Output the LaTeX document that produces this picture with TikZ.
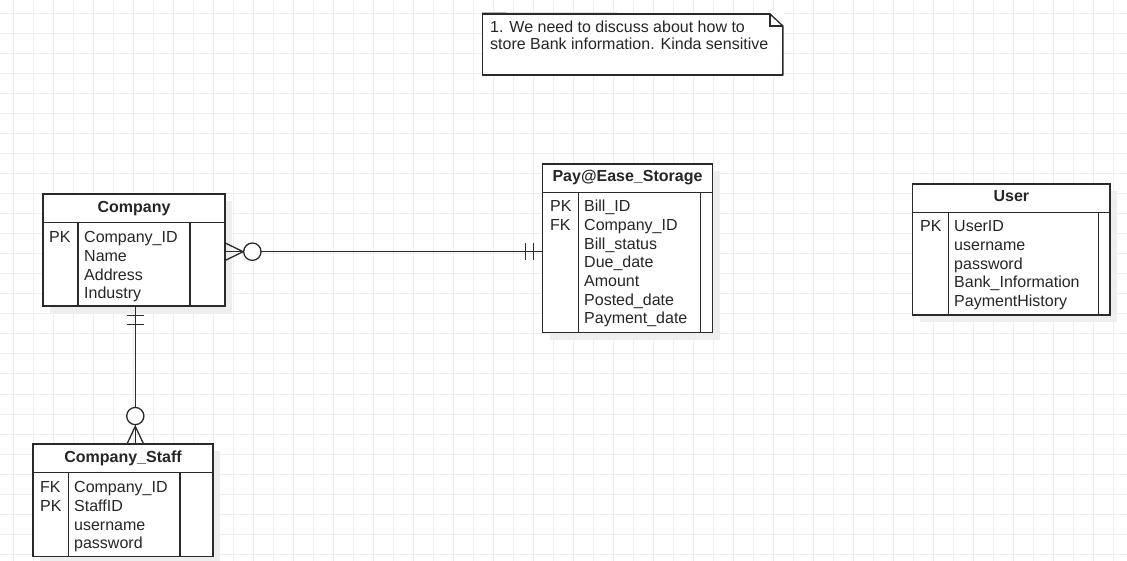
\documentclass[tikz,border=0pt]{standalone}
\usepackage{fontspec}
\setmainfont{Liberation Sans}
\definecolor{gridc}{HTML}{EEEEEE}
\definecolor{linec}{HTML}{2A2A2A}
\definecolor{textc}{HTML}{262626}
\definecolor{shadowc}{HTML}{EEEEEE}
\tikzset{
  gridline/.style={draw=gridc, line width=1bp},
  shade box/.style={fill=shadowc, draw=none},
  entity/.style={draw=linec, line width=1.3bp, fill=white, inner sep=0pt},
  inner line/.style={draw=linec, line width=1.3bp},
  conn/.style={draw=linec, line width=1.3bp},
  hdr/.style={anchor=base, inner sep=0pt, text=textc, font=\fontsize{16bp}{18.67bp}\selectfont\bfseries},
  rows/.style={anchor=north west, inner sep=0pt, align=left, text=textc, font=\fontsize{16bp}{18.67bp}\selectfont},
  notetext/.style={anchor=north west, inner sep=0pt, align=left, text=textc, font=\fontsize{16bp}{16.7bp}\selectfont},
}
\begin{document}
\begin{tikzpicture}[x=1bp, y=-1bp]
\useasboundingbox (0,0) rectangle (1127,561);
\fill[white] (0,0) rectangle (1127,561);
% grid
\foreach \i in {0,...,55} \draw[gridline] (13.3+20*\i,0) -- (13.3+20*\i,561);
\foreach \j in {0,...,27} \draw[gridline] (0,14+20*\j) -- (1127,14+20*\j);

% ---------- Note ----------
\node[draw=linec, line width=1.3bp, fill=white, inner sep=0pt, minimum width=299.6bp, minimum height=61bp] (note) at (632.5,44.5) {};
\fill[white] (770,13) -- (783.5,13) -- (783.5,26.5) -- cycle;
\draw[inner line] (note.north west) -- (770,14) -- (note.north east |- 0,26) -- (note.south east);
\draw[inner line, line join=miter] (770,14) -- (770,26) -- (note.north east |- 0,26);
\node[notetext] (notetxt) at (490,20.6) {\strut 1. We need to discuss about how to\\\strut store Bank information. Kinda sensitive};

% ---------- Company ----------
\fill[shade box] (50,201) rectangle (232,313);
\node[entity, minimum width=182bp, minimum height=112bp] (company) at (134,250) {};
\draw[inner line] (43,222.5) -- (225,222.5);
\draw[inner line] (78,222.5) -- (78,306);
\draw[inner line] (190,222.5) -- (190,306);
\node[hdr] (companyh) at (134,212.3) {Company};
\node[rows] (companyk) at (49,229.4) {\strut PK};
\node[rows] (companyf) at (84,229.4) {\strut Company\_ID\\\strut Name\\\strut Address\\\strut Industry};

% ---------- Company_Staff ----------
\fill[shade box] (40,451) rectangle (220,564);
\node[entity, minimum width=180bp, minimum height=112.7bp] (staff) at (123,500.35) {};
\draw[inner line] (33,472.7) -- (213,472.7);
\draw[inner line] (68.3,472.7) -- (68.3,556.7);
\draw[inner line] (180,472.7) -- (180,556.7);
\node[hdr] (staffh) at (123,462.3) {Company\_Staff};
\node[rows] (staffk) at (40,479.5) {\strut FK\\\strut PK};
\node[rows] (stafff) at (74,479.5) {\strut Company\_ID\\\strut StaffID\\\strut username\\\strut password};

% ---------- Pay@Ease_Storage ----------
\fill[shade box] (550,171) rectangle (720,340);
\node[entity, minimum width=169.6bp, minimum height=168.7bp] (pay) at (627.5,248.35) {};
\draw[inner line] (542.7,192.7) -- (712.3,192.7);
\draw[inner line] (578.3,192.7) -- (578.3,332.7);
\draw[inner line] (700.7,192.7) -- (700.7,332.7);
\node[hdr] (payh) at (627.5,181.7) {Pay@Ease\_Storage};
\node[rows] (payk) at (550,198.6) {\strut PK\\\strut FK};
\node[rows] (payf) at (584,198.6) {\strut Bill\_ID\\\strut Company\_ID\\\strut Bill\_status\\\strut Due\_date\\\strut Amount\\\strut Posted\_date\\\strut Payment\_date};

% ---------- User ----------
\fill[shade box] (920,191) rectangle (1117,322);
\node[entity, minimum width=197.3bp, minimum height=131bp] (user) at (1011.35,249.5) {};
\draw[inner line] (912.7,212.7) -- (1110,212.7);
\draw[inner line] (948.3,212.7) -- (948.3,315);
\draw[inner line] (1098.7,212.7) -- (1098.7,315);
\node[hdr] (userh) at (1011.35,201.7) {User};
\node[rows] (userk) at (920,218.6) {\strut PK};
\node[rows] (userf) at (954,218.6) {\strut UserID\\\strut username\\\strut password\\\strut Bank\_Information\\\strut PaymentHistory};

% ---------- Company -- Pay (zero-or-many to one-and-only-one) ----------
\coordinate (r1a) at (company.east |- 0,251.7);
\coordinate (r1b) at (pay.west |- 0,251.7);
\draw[conn] (r1a) -- (r1b);
\draw[conn] (r1a) ++(0,-8.5) -- ++(17.5,8.5) -- ++(-17.5,8.5);
\draw[conn, fill=white] (r1a) ++(26.7,0) circle[radius=8.7bp];
\draw[conn] (r1b) ++(-16.6,-8.3) -- ++(0,16.6);
\draw[conn] (r1b) ++(-8.4,-8.3) -- ++(0,16.6);

% ---------- Company -- Company_Staff ----------
\coordinate (r2a) at (135.3,0 |- company.south);
\coordinate (r2b) at (135.3,0 |- staff.north);
\draw[conn] (r2a) -- (r2b);
\draw[conn] (r2a) ++(-8.6,9) -- ++(17.2,0);
\draw[conn] (r2a) ++(-8.6,18) -- ++(17.2,0);
\draw[conn] (r2b) ++(-8,0) -- ++(8,-17) -- ++(8,17);
\draw[conn, fill=white] (r2b) ++(0,-27.3) circle[radius=8.6bp];
\end{tikzpicture}
\end{document}
